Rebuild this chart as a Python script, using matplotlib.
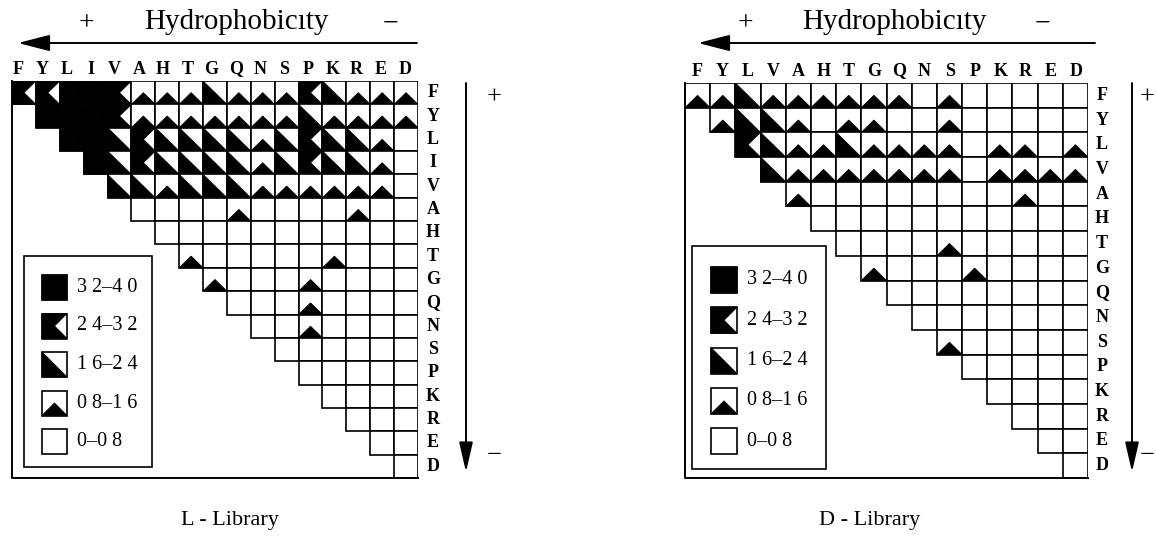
import matplotlib
matplotlib.use('Agg')
import matplotlib.pyplot as plt
from matplotlib.patches import Polygon, Rectangle

plt.rcParams['font.family'] = ['Liberation Serif', 'DejaVu Serif']

# amino acids, ordered by hydrophobicity
l_aa = ['F', 'Y', 'L', 'I', 'V', 'A', 'H', 'T', 'G', 'Q', 'N', 'S', 'P', 'K', 'R', 'E', 'D']
d_aa = ['F', 'Y', 'L', 'V', 'A', 'H', 'T', 'G', 'Q', 'N', 'S', 'P', 'K', 'R', 'E', 'D']

# class per cell (0: 0-0.8 ... 4: 3.2-4.0), each row starts at the diagonal
l_rows = [
    [3, 3, 4, 4, 3, 1, 1, 1, 2, 1, 1, 1, 3, 2, 1, 1, 1],  # F
    [4, 4, 4, 3, 1, 1, 1, 1, 1, 1, 1, 2, 1, 1, 1, 1],     # Y
    [4, 4, 2, 3, 2, 2, 2, 2, 1, 2, 3, 2, 2, 1, 0],        # L
    [4, 2, 3, 2, 2, 2, 2, 1, 2, 3, 2, 2, 1, 0],           # I
    [2, 2, 1, 2, 2, 2, 1, 1, 1, 1, 1, 1, 0],              # V
    [0, 0, 0, 0, 1, 0, 0, 0, 0, 1, 0, 0],                 # A
    [0, 0, 0, 0, 0, 0, 0, 0, 0, 0, 0],                    # H
    [1, 0, 0, 0, 0, 0, 1, 0, 0, 0],                       # T
    [1, 0, 0, 0, 1, 0, 0, 0, 0],                          # G
    [0, 0, 0, 1, 0, 0, 0, 0],                             # Q
    [0, 0, 1, 0, 0, 0, 0],                                # N
    [0, 0, 0, 0, 0, 0],                                   # S
    [0, 0, 0, 0, 0],                                      # P
    [0, 0, 0, 0],                                         # K
    [0, 0, 0],                                            # R
    [0, 0],                                               # E
    [0],                                                  # D
]

d_rows = [
    [1, 1, 2, 1, 1, 1, 1, 1, 1, 0, 1, 0, 0, 0, 0, 0],     # F
    [1, 2, 2, 1, 0, 1, 1, 0, 0, 1, 0, 0, 0, 0, 0],        # Y
    [3, 2, 1, 1, 2, 1, 1, 1, 1, 0, 1, 1, 0, 1],           # L
    [2, 1, 1, 1, 1, 1, 1, 1, 0, 1, 1, 1, 1],              # V
    [1, 0, 0, 0, 0, 0, 0, 0, 0, 1, 0, 0],                 # A
    [0, 0, 0, 0, 0, 0, 0, 0, 0, 0, 0],                    # H
    [0, 0, 0, 0, 1, 0, 0, 0, 0, 0],                       # T
    [1, 0, 0, 0, 1, 0, 0, 0, 0],                          # G
    [0, 0, 0, 0, 0, 0, 0, 0],                             # Q
    [0, 0, 0, 0, 0, 0, 0],                                # N
    [1, 0, 0, 0, 0, 0],                                   # S
    [0, 0, 0, 0, 0],                                      # P
    [0, 0, 0, 0],                                         # K
    [0, 0, 0],                                            # R
    [0, 0],                                               # E
    [0],                                                  # D
]

legend_levels = [4, 3, 2, 1, 0]
legend_labels = ['3 2–4 0', '2 4–3 2', '1 6–2 4', '0 8–1 6', '0–0 8']
captions = ['L - Library', 'D - Library']

W, H = 1156, 542


def draw_cell(ax, x, y, level, s=1.0, lw=1.2):
    # (x, y) is the top-left corner, y grows downward
    cx, cy = x + s / 2, y + s / 2
    quarters = [
        [(x, y + s), (x + s, y + s), (cx, cy)],  # bottom
        [(x, y), (x, y + s), (cx, cy)],          # left
        [(x, y), (x + s, y), (cx, cy)],          # top
        [(x + s, y), (x + s, y + s), (cx, cy)],  # right
    ]
    ax.add_patch(Rectangle((x, y), s, s, facecolor='white', edgecolor='none'))
    for q in quarters[:level]:
        ax.add_patch(Polygon(q, closed=True, facecolor='black', edgecolor='black', lw=0.6))
    ax.add_patch(Rectangle((x, y), s, s, fill=False, edgecolor='black', lw=lw))


def matrix_axes(fig, px_left, px_top, px_right, px_bottom, rows, labels, label_off):
    n = len(labels)
    ax = fig.add_axes([px_left / W, 1 - px_bottom / H,
                       (px_right - px_left) / W, (px_bottom - px_top) / H])
    ax.set_xlim(0, n)
    ax.set_ylim(n, 0)
    ax.axis('off')
    for r, row in enumerate(rows):
        for k, level in enumerate(row):
            draw_cell(ax, r + k, r, level)
    ax.plot([0, 0, n], [0, n, n], color='black', lw=1.4, clip_on=False)
    for r, name in enumerate(labels):
        ax.text(n + label_off, r + 0.5, name, ha='center', va='center',
                fontsize=13, fontweight='bold', clip_on=False)
    return ax


def header(ov, x0, x1, plus_x, title_x, minus_x):
    ov.annotate('', xy=(x0, 43), xytext=(x1, 43),
                arrowprops=dict(arrowstyle='-|>,head_length=1.4,head_width=0.36',
                                mutation_scale=14, lw=1.4, color='black',
                                shrinkA=0, shrinkB=0))
    ov.text(plus_x, 24, '+', ha='center', va='center', fontsize=20)
    ov.text(title_x, 22, 'Hydrophobicıty', ha='center', va='center', fontsize=21)
    ov.text(minus_x, 24, '−', ha='center', va='center', fontsize=20)


def side_arrow(ov, x, label_x):
    ov.annotate('', xy=(x, 472), xytext=(x, 83),
                arrowprops=dict(arrowstyle='-|>,head_length=1.3,head_width=0.3',
                                mutation_scale=14, lw=1.4, color='black',
                                shrinkA=0, shrinkB=0))
    ov.text(label_x, 98, '+', ha='center', va='center', fontsize=19)
    ov.text(label_x, 456, '−', ha='center', va='center', fontsize=19)


def legend(ov, box, icon_x, icon_y0, step, size):
    bx, by, bw, bh = box
    ov.add_patch(Rectangle((bx, by), bw, bh, facecolor='white', edgecolor='black', lw=1.2))
    for i, (level, label) in enumerate(zip(legend_levels, legend_labels)):
        y = icon_y0 + i * step
        draw_cell(ov, icon_x, y, level, s=size)
        ov.text(icon_x + size + 10, y + size / 2, label, ha='left', va='center', fontsize=14.5)


fig = plt.figure(figsize=(W / 100, H / 100), dpi=100)

matrix_axes(fig, 12, 81, 418, 478, l_rows, l_aa, 0.63)
matrix_axes(fig, 685, 83, 1088, 478, d_rows, d_aa, 0.55)

ov = fig.add_axes([0, 0, 1, 1])
ov.set_xlim(0, W)
ov.set_ylim(H, 0)
ov.axis('off')

# left panel decorations
header(ov, 18, 417, 86, 236, 390)
n_l = len(l_aa)
for i, name in enumerate(l_aa):
    ov.text(18 + i * (405 - 18) / (n_l - 1), 69, name, ha='center', va='center',
            fontsize=13, fontweight='bold')
side_arrow(ov, 466, 494)
legend(ov, (24, 256, 128, 211), 42, 275, 38.5, 25)
ov.text(230, 520, captions[0], ha='center', va='center', fontsize=16)

# right panel decorations
header(ov, 698, 1095, 745, 894, 1042)
n_d = len(d_aa)
for i, name in enumerate(d_aa):
    ov.text(697 + i * (1076 - 697) / (n_d - 1), 71, name, ha='center', va='center',
            fontsize=13, fontweight='bold')
side_arrow(ov, 1132, 1147)
legend(ov, (692, 246, 134, 223), 711, 267, 40.3, 26)
ov.text(870, 520, captions[1], ha='center', va='center', fontsize=16)

fig.savefig('out.png', dpi=100)
